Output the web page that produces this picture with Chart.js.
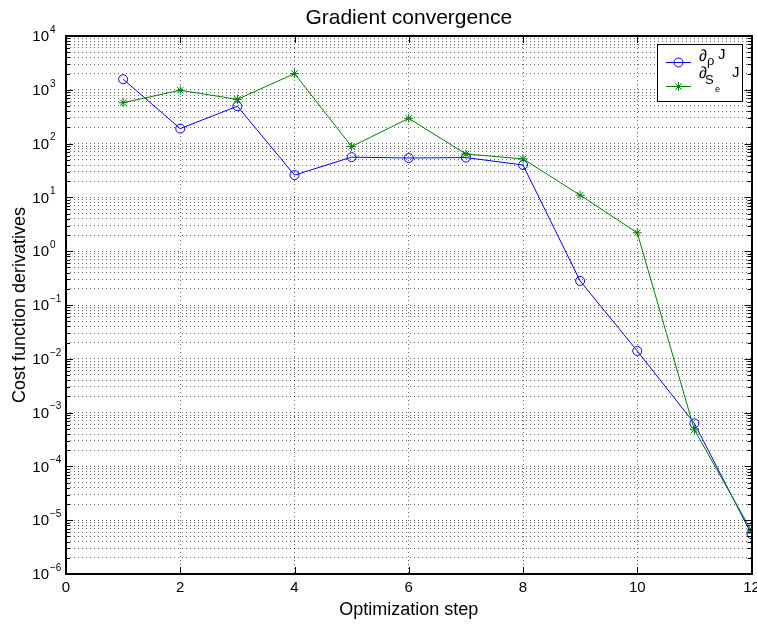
<!DOCTYPE html>
<html>
<head>
<meta charset="utf-8">
<script src="https://cdn.jsdelivr.net/npm/chart.js@4/dist/chart.umd.min.js"></script>
<style>
  html, body { margin: 0; padding: 0; background: #fff; }
  #wrap { width: 757px; height: 624px; }
</style>
</head>
<body>
<div id="wrap"><canvas id="chart" width="757" height="624"></canvas></div>
<script>
// data
const steps = [1, 2, 3, 4, 5, 6, 7, 8, 9, 10, 11, 12];
const dRho = [1570, 190, 495, 26, 56, 54, 55, 40, 0.28, 0.014, 6.3e-4, 5.5e-6];
const dSe = [575, 980, 665, 2000, 88, 295, 64, 52, 11, 2.2, 4.8e-4, 6.3e-6];
const xTicks = [0, 2, 4, 6, 8, 10, 12];
const yDecades = [-6, -5, -4, -3, -2, -1, 0, 1, 2, 3, 4];
const chartTitle = 'Gradient convergence';

const FONT = '"Liberation Sans", Arial, Helvetica, sans-serif';
const gridColor = 'rgba(0,0,0,0.6)';

// every 1..9 x 10^n between the decades
const yTickValues = [];
yDecades.forEach((e, i) => {
  if (i === yDecades.length - 1) { yTickValues.push(Math.pow(10, e)); return; }
  for (let m = 1; m < 10; m++) yTickValues.push(m * Math.pow(10, e));
});

// axis box, inward ticks, y labels with exponents, title over the axes, legend
const matlabAxes = {
  id: 'matlabAxes',
  afterDraw(chart) {
    const ctx = chart.ctx;
    const a = chart.chartArea;
    const xs = chart.scales.x, ys = chart.scales.y;
    ctx.save();
    ctx.strokeStyle = '#000';
    ctx.lineWidth = 1;
    ctx.setLineDash([]);

    // y ticks on both sides
    yTickValues.forEach(v => {
      const py = Math.round(ys.getPixelForValue(v)) + 0.5;
      const major = Math.abs(Math.log10(v) - Math.round(Math.log10(v))) < 1e-9;
      const len = major ? 7 : 4;
      ctx.beginPath();
      ctx.moveTo(a.left, py); ctx.lineTo(a.left + len, py);
      ctx.moveTo(a.right, py); ctx.lineTo(a.right - len, py);
      ctx.stroke();
    });
    // x ticks top and bottom
    xTicks.forEach(v => {
      const px = Math.round(xs.getPixelForValue(v)) + 0.5;
      ctx.beginPath();
      ctx.moveTo(px, a.bottom); ctx.lineTo(px, a.bottom - 7);
      ctx.moveTo(px, a.top); ctx.lineTo(px, a.top + 7);
      ctx.stroke();
    });
    // box
    ctx.lineWidth = 2;
    ctx.strokeRect(Math.round(a.left), Math.round(a.top), Math.round(a.right - a.left), Math.round(a.bottom - a.top));

    // title centred over the axes
    ctx.fillStyle = '#000';
    ctx.font = '21px ' + FONT;
    ctx.textAlign = 'center';
    ctx.textBaseline = 'alphabetic';
    ctx.fillText(chartTitle, (a.left + a.right) / 2, 24);

    // y tick labels 10^n
    yDecades.forEach(e => {
      const py = ys.getPixelForValue(Math.pow(10, e));
      ctx.font = '15px ' + FONT;
      ctx.textAlign = 'right';
      ctx.textBaseline = 'middle';
      ctx.fillText('10', a.left - 17, py + 1);
      ctx.font = '10px ' + FONT;
      ctx.textAlign = 'left';
      ctx.fillText(e < 0 ? '\u2212' + (-e) : String(e), a.left - 16, py - 6);
    });

    // legend
    const lx = 657, ly = 44, lw = 85, lh = 57;
    ctx.fillStyle = '#fff';
    ctx.fillRect(lx, ly, lw, lh);
    ctx.lineWidth = 1;
    ctx.strokeStyle = '#000';
    ctx.strokeRect(lx + 0.5, ly + 0.5, lw, lh);

    ctx.strokeStyle = '#0000ff';
    ctx.beginPath(); ctx.moveTo(666, 62.5); ctx.lineTo(691, 62.5); ctx.stroke();
    ctx.beginPath(); ctx.arc(678.5, 62.5, 4.5, 0, Math.PI * 2); ctx.stroke();

    ctx.strokeStyle = '#008000';
    ctx.beginPath(); ctx.moveTo(666, 86.5); ctx.lineTo(691, 86.5); ctx.stroke();
    ctx.beginPath();
    for (let k = 0; k < 4; k++) {
      const ang = k * Math.PI / 4;
      ctx.moveTo(678.5 - 4.5 * Math.cos(ang), 86.5 - 4.5 * Math.sin(ang));
      ctx.lineTo(678.5 + 4.5 * Math.cos(ang), 86.5 + 4.5 * Math.sin(ang));
    }
    ctx.stroke();

    ctx.fillStyle = '#000';
    ctx.textAlign = 'left';
    ctx.textBaseline = 'alphabetic';
    ctx.font = '16px ' + FONT;
    ctx.fillText('\u2202', 699, 61);
    ctx.fillText('\u2202', 699, 78);
    ctx.font = '15px ' + FONT;
    ctx.fillText('J', 718, 59);
    ctx.fillText('J', 732, 77);
    ctx.font = '13px ' + FONT;
    ctx.fillText('\u03c1', 707, 65);
    ctx.fillText('S', 705, 84);
    ctx.font = '9px ' + FONT;
    ctx.fillText('e', 715, 92);
    ctx.restore();
  }
};

new Chart(document.getElementById('chart'), {
  type: 'line',
  data: {
    datasets: [
      {
        label: '\u2202\u03c1 J',
        data: steps.map((s, i) => ({ x: s, y: dRho[i] })),
        borderColor: '#0000ff',
        backgroundColor: 'rgba(0,0,0,0)',
        borderWidth: 1,
        pointStyle: 'circle',
        pointRadius: 4.5,
        pointBorderWidth: 1,
        pointBorderColor: '#0000ff',
        tension: 0,
        order: 1
      },
      {
        label: '\u2202Se J',
        data: steps.map((s, i) => ({ x: s, y: dSe[i] })),
        borderColor: '#008000',
        backgroundColor: '#008000',
        borderWidth: 1,
        pointStyle: 'star',
        pointRadius: 4.5,
        pointBorderWidth: 1,
        pointBorderColor: '#008000',
        tension: 0,
        order: 0
      }
    ]
  },
  options: {
    responsive: false,
    animation: false,
    layout: { padding: { left: 0, right: 5, top: 36, bottom: 0 } },
    plugins: {
      legend: { display: false },
      tooltip: { enabled: false },
      title: { display: false }
    },
    scales: {
      x: {
        type: 'linear',
        min: 0,
        max: 12,
        afterBuildTicks: s => { s.ticks = xTicks.map(v => ({ value: v })); },
        afterFit: s => { s.height = 50; s.paddingLeft = 0; s.paddingRight = 0; },
        ticks: { color: '#000', font: { family: FONT, size: 15 }, padding: 5, maxRotation: 0 },
        grid: { color: gridColor, drawTicks: false, lineWidth: 1 },
        border: { display: false, dash: [1, 3] },
        title: {
          display: true,
          text: 'Optimization step',
          color: '#000',
          font: { family: FONT, size: 18 },
          padding: { top: 0, bottom: 3 }
        }
      },
      y: {
        type: 'logarithmic',
        min: 1e-6,
        max: 1e4,
        afterBuildTicks: s => { s.ticks = yTickValues.map(v => ({ value: v })); },
        afterFit: s => { s.width = 66; s.paddingTop = 0; s.paddingBottom = 0; },
        ticks: { display: false },
        grid: { color: gridColor, drawTicks: false, lineWidth: 1 },
        border: { display: false, dash: [1, 3] },
        title: {
          display: true,
          text: 'Cost function derivatives',
          color: '#000',
          font: { family: FONT, size: 18 },
          padding: { top: 9, bottom: 9 }
        }
      }
    }
  },
  plugins: [matlabAxes]
});
</script>
</body>
</html>
